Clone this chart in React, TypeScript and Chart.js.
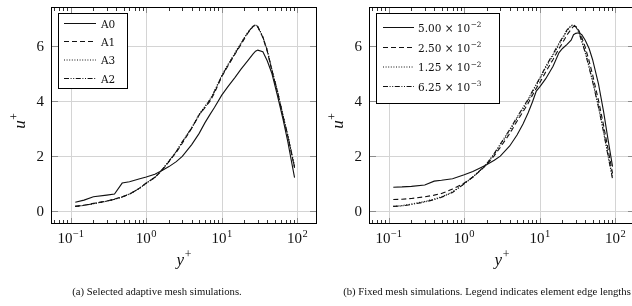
import React, { useEffect, useRef } from "react";
import { Chart, registerables } from "chart.js";

Chart.register(...registerables);

// ---------------- data ----------------
// (a) adaptive meshes
const yPlusA = [0.115, 0.15, 0.2, 0.3, 0.38, 0.48, 0.6, 0.8, 1, 1.3, 1.6, 2, 2.5, 3, 4, 5, 6, 7, 8, 10, 12, 15, 18, 22, 26, 28, 30, 35, 40, 46, 55, 65, 75, 85, 92];
const uA0 = [0.3, 0.38, 0.5, 0.56, 0.6, 1.0, 1.05, 1.15, 1.22, 1.32, 1.45, 1.6, 1.78, 1.97, 2.4, 2.8, 3.2, 3.5, 3.75, 4.2, 4.5, 4.85, 5.15, 5.45, 5.7, 5.8, 5.84, 5.78, 5.45, 5.0, 4.15, 3.3, 2.5, 1.7, 1.2];
const uA1 = [0.15, 0.19, 0.26, 0.35, 0.42, 0.5, 0.6, 0.8, 1.0, 1.2, 1.45, 1.78, 2.12, 2.45, 3.0, 3.48, 3.75, 3.98, 4.28, 4.88, 5.25, 5.7, 6.05, 6.45, 6.7, 6.75, 6.68, 6.3, 5.8, 5.1, 4.28, 3.4, 2.7, 2.0, 1.55];
const uA3 = [0.15, 0.19, 0.25, 0.34, 0.41, 0.49, 0.6, 0.79, 0.99, 1.2, 1.46, 1.8, 2.15, 2.5, 3.02, 3.5, 3.8, 4.05, 4.35, 4.92, 5.3, 5.75, 6.1, 6.48, 6.72, 6.76, 6.7, 6.32, 5.85, 5.15, 4.32, 3.45, 2.75, 2.05, 1.6];
const uA2 = [0.15, 0.19, 0.25, 0.34, 0.41, 0.49, 0.6, 0.8, 1.0, 1.21, 1.47, 1.8, 2.15, 2.5, 3.0, 3.47, 3.78, 4.03, 4.33, 4.9, 5.28, 5.72, 6.08, 6.47, 6.72, 6.76, 6.7, 6.32, 5.83, 5.13, 4.3, 3.43, 2.72, 2.02, 1.58];
const labelsA = ["A0", "A1", "A3", "A2"];

// (b) fixed meshes
const yPlusB = [0.115, 0.15, 0.2, 0.3, 0.4, 0.5, 0.7, 1, 1.3, 1.7, 2, 2.5, 3, 4, 5, 6, 7, 8, 9, 10, 12, 15, 18, 20, 23, 26, 28, 30, 33, 36, 40, 45, 50, 60, 70, 80, 92];
const uB500 = [0.85, 0.86, 0.88, 0.93, 1.07, 1.1, 1.16, 1.3, 1.42, 1.58, 1.68, 1.83, 1.98, 2.35, 2.75, 3.15, 3.55, 3.95, 4.35, 4.5, 4.8, 5.25, 5.75, 5.9, 6.05, 6.2, 6.4, 6.45, 6.47, 6.4, 6.2, 5.9, 5.5, 4.6, 3.6, 2.6, 1.6];
const uB250 = [0.4, 0.41, 0.44, 0.5, 0.56, 0.62, 0.78, 1.0, 1.22, 1.5, 1.68, 2.0, 2.3, 2.8, 3.25, 3.6, 3.9, 4.2, 4.45, 4.65, 5.05, 5.5, 5.9, 6.1, 6.4, 6.6, 6.7, 6.7, 6.55, 6.3, 5.95, 5.45, 4.95, 4.0, 3.1, 2.25, 1.35];
const uB125 = [0.15, 0.18, 0.24, 0.33, 0.42, 0.5, 0.68, 0.98, 1.22, 1.5, 1.7, 2.05, 2.38, 2.9, 3.35, 3.7, 4.0, 4.3, 4.55, 4.78, 5.2, 5.65, 6.05, 6.25, 6.55, 6.72, 6.75, 6.7, 6.5, 6.2, 5.8, 5.25, 4.75, 3.8, 2.9, 2.05, 1.2];
const uB0625 = [0.15, 0.17, 0.22, 0.31, 0.4, 0.48, 0.66, 0.97, 1.22, 1.52, 1.72, 2.08, 2.42, 2.95, 3.4, 3.75, 4.05, 4.35, 4.6, 4.82, 5.25, 5.7, 6.1, 6.3, 6.58, 6.74, 6.76, 6.7, 6.48, 6.15, 5.75, 5.2, 4.7, 3.75, 2.85, 2.0, 1.15];
const labelsB = ["5.00 × 10^−2", "2.50 × 10^−2", "1.25 × 10^−2", "6.25 × 10^−3"];

// axes
const xTickLabels = ["10^−1", "10^0", "10^1", "10^2"];
const xTickValues = [0.1, 1, 10, 100];
const yTickValues = [0, 2, 4, 6];
const X_MIN = Math.pow(10, -1.261);
const X_MAX = Math.pow(10, 2.261);
const Y_MIN = -0.49;
const Y_MAX = 7.41;

// ---------------- styles ----------------
const DASHES: number[][] = [[], [5, 3], [1, 1.6], [5, 1.6, 1, 1.6, 1, 1.6]];
const LINE = "#111";
const SERIF = '"Liberation Serif", "DejaVu Serif", serif';
const LEG_FONT = '"DejaVu Serif", "Liberation Serif", serif';

function drawRich(
  ctx: CanvasRenderingContext2D,
  text: string,
  x: number,
  y: number,
  size: number,
  align: "left" | "center" | "right",
  family: string,
  italicBase = false
) {
  const [base, sup] = text.split("^");
  const baseFont = `${italicBase ? "italic " : ""}${size}px ${family}`;
  const supSize = size * 0.7;
  const supFont = `${supSize}px ${family}`;
  ctx.font = baseFont;
  const wb = ctx.measureText(base).width;
  let ws = 0;
  if (sup !== undefined) {
    ctx.font = supFont;
    ws = ctx.measureText(sup).width;
  }
  const total = wb + ws + (sup !== undefined ? 0.5 : 0);
  const x0 = align === "center" ? x - total / 2 : align === "right" ? x - total : x;
  ctx.textAlign = "left";
  ctx.textBaseline = "alphabetic";
  ctx.font = baseFont;
  ctx.fillText(base, x0, y);
  if (sup !== undefined) {
    ctx.font = supFont;
    ctx.fillText(sup, x0 + wb + 0.5, y - size * 0.42);
  }
}

type LegendSpec = {
  labels: string[];
  box: [number, number, number, number]; // left, top, right, bottom (chart coords)
  rows: number[];
  sample: [number, number];
  textX: number;
};

function decoPlugin(legend: LegendSpec) {
  return {
    id: "deco",
    beforeDatasetsDraw(chart: any) {
      const { ctx, chartArea: a, scales } = chart;
      const x = scales.x;
      const y = scales.y;
      ctx.save();
      ctx.strokeStyle = "#d4d4d4";
      ctx.lineWidth = 1;
      ctx.beginPath();
      for (const v of xTickValues) {
        const px = Math.round(x.getPixelForValue(v)) + 0.5;
        ctx.moveTo(px, a.top);
        ctx.lineTo(px, a.bottom);
      }
      for (const v of yTickValues) {
        const py = Math.round(y.getPixelForValue(v)) + 0.5;
        ctx.moveTo(a.left, py);
        ctx.lineTo(a.right, py);
      }
      ctx.stroke();
      ctx.restore();
    },
    afterDatasetsDraw(chart: any) {
      const { ctx, chartArea: a, scales } = chart;
      const x = scales.x;
      const y = scales.y;
      ctx.save();
      // minor x ticks
      ctx.strokeStyle = "#333";
      ctx.lineWidth = 1;
      ctx.beginPath();
      for (let e = -2; e <= 2; e++) {
        for (let m = 2; m <= 9; m++) {
          const v = m * Math.pow(10, e);
          if (v <= X_MIN || v >= X_MAX) continue;
          const px = Math.round(x.getPixelForValue(v)) + 0.5;
          ctx.moveTo(px, a.bottom);
          ctx.lineTo(px, a.bottom - 4);
          ctx.moveTo(px, a.top);
          ctx.lineTo(px, a.top + 4);
        }
      }
      ctx.stroke();
      // major ticks
      ctx.strokeStyle = "#8c8c8c";
      ctx.beginPath();
      for (const v of xTickValues) {
        const px = Math.round(x.getPixelForValue(v)) + 0.5;
        ctx.moveTo(px, a.bottom);
        ctx.lineTo(px, a.bottom - 6);
        ctx.moveTo(px, a.top);
        ctx.lineTo(px, a.top + 6);
      }
      for (const v of yTickValues) {
        const py = Math.round(y.getPixelForValue(v)) + 0.5;
        ctx.moveTo(a.left, py);
        ctx.lineTo(a.left + 7, py);
        ctx.moveTo(a.right, py);
        ctx.lineTo(a.right - 7, py);
      }
      ctx.stroke();
      // frame
      ctx.strokeStyle = "#000";
      ctx.strokeRect(a.left + 0.5, a.top + 0.5, a.right - a.left - 1, a.bottom - a.top - 1);

      // tick labels
      ctx.fillStyle = "#111";
      xTickValues.forEach((v, i) => {
        const px = x.getPixelForValue(v);
        drawRich(ctx, xTickLabels[i], px, a.bottom + 19, 15, "center", SERIF);
      });
      yTickValues.forEach((v) => {
        const py = y.getPixelForValue(v);
        drawRich(ctx, String(v), a.left - 7, py + 5, 15, "right", SERIF);
      });
      // axis labels
      drawRich(ctx, "y^+", (a.left + a.right) / 2, a.bottom + 41, 17, "center", SERIF, true);
      ctx.save();
      ctx.translate(a.left - 26, 121);
      ctx.rotate(-Math.PI / 2);
      drawRich(ctx, "u^+", 0, 0, 17, "center", SERIF, true);
      ctx.restore();

      // legend
      const [bl, bt, br, bb] = legend.box;
      ctx.fillStyle = "#fff";
      ctx.fillRect(bl, bt, br - bl, bb - bt);
      ctx.strokeStyle = "#000";
      ctx.lineWidth = 1;
      ctx.strokeRect(bl + 0.5, bt + 0.5, br - bl - 1, bb - bt - 1);
      chart.data.datasets.forEach((ds: any, i: number) => {
        const ry = legend.rows[i] + 0.5;
        ctx.strokeStyle = LINE;
        ctx.lineWidth = 1;
        ctx.setLineDash(ds.borderDash || []);
        ctx.beginPath();
        ctx.moveTo(legend.sample[0], ry);
        ctx.lineTo(legend.sample[1], ry);
        ctx.stroke();
        ctx.setLineDash([]);
        ctx.fillStyle = "#111";
        drawRich(ctx, legend.labels[i], legend.textX, ry + 4, 10.5, "left", LEG_FONT);
      });
      ctx.restore();
    },
  };
}

function buildConfig(
  xs: number[],
  series: number[][],
  legend: LegendSpec,
  padding: { left: number; right: number; top: number; bottom: number }
): any {
  return {
    type: "line",
    data: {
      datasets: series.map((vals, i) => ({
        label: legend.labels[i],
        data: xs.map((xv, j) => ({ x: xv, y: vals[j] })),
        borderColor: LINE,
        borderWidth: 1.1,
        borderDash: DASHES[i],
        pointRadius: 0,
        fill: false,
        tension: 0,
      })),
    },
    options: {
      animation: false,
      responsive: false,
      devicePixelRatio: 1,
      events: [],
      layout: { padding },
      scales: {
        x: { type: "logarithmic", display: false, min: X_MIN, max: X_MAX },
        y: { type: "linear", display: false, min: Y_MIN, max: Y_MAX },
      },
      plugins: { legend: { display: false }, tooltip: { enabled: false } },
    },
    plugins: [decoPlugin(legend)],
  };
}

function Plot(props: { left: number; width: number; make: () => any }) {
  const ref = useRef<HTMLCanvasElement>(null);
  useEffect(() => {
    const chart = new Chart(ref.current as HTMLCanvasElement, props.make());
    return () => chart.destroy();
  }, []);
  return (
    <canvas
      ref={ref}
      width={props.width}
      height={306}
      style={{ position: "absolute", left: props.left, top: 0, width: props.width, height: 306 }}
    />
  );
}

export default function App() {
  const makeA = () =>
    buildConfig(
      yPlusA,
      [uA0, uA1, uA3, uA2],
      {
        labels: labelsA,
        box: [58, 13, 128, 89],
        rows: [23, 41, 59.5, 78],
        sample: [64, 96],
        textX: 101,
      },
      { left: 51, top: 7, right: 3, bottom: 82 }
    );
  const makeB = () =>
    buildConfig(
      yPlusB,
      [uB500, uB250, uB125, uB0625],
      {
        labels: labelsB,
        box: [60, 13, 184, 104],
        rows: [27, 47, 66.5, 86],
        sample: [67, 98],
        textX: 102,
      },
      { left: 53, top: 7, right: 5, bottom: 82 }
    );
  const caption: React.CSSProperties = {
    position: "absolute",
    top: 285,
    fontFamily: SERIF,
    fontSize: 10.7,
    whiteSpace: "nowrap",
    transform: "translateX(-50%)",
    color: "#111",
  };
  return (
    <div
      style={{
        position: "fixed",
        left: 0,
        top: 0,
        width: 632,
        height: 306,
        overflow: "hidden",
        background: "#fff",
      }}
    >
      <Plot left={0} width={320} make={makeA} />
      <Plot left={316} width={324} make={makeB} />
      <div style={{ ...caption, left: 157 }}>(a) Selected adaptive mesh simulations.</div>
      <div style={{ ...caption, left: 487 }}>(b) Fixed mesh simulations. Legend indicates element edge lengths</div>
    </div>
  );
}
